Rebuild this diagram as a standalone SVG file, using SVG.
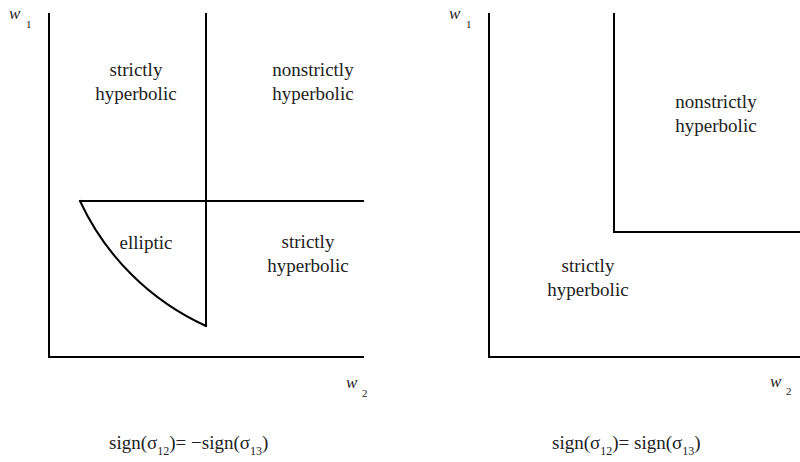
<svg xmlns="http://www.w3.org/2000/svg" width="800" height="462" viewBox="0 0 800 462">
<style>
.ln{stroke:#000;stroke-width:2;fill:none;stroke-linecap:square}
.t{font-size:19px;text-anchor:middle}
.w{font-size:17px;font-style:italic}
.s{font-size:11px}
.f{font-size:19px}
.fs{font-size:12px}
</style>
<rect width="800" height="462" fill="#fff"/>
<g id="connectors">
<path class="ln" d="M49,14 V357 H363"/>
<path class="ln" d="M206,14 V326"/>
<path class="ln" d="M80,201 H363"/>
<path class="ln" d="M80,201 A255,255 0 0 0 206,326"/>
<path class="ln" d="M489,14 V357 H800"/>
<path class="ln" d="M614,14 V232 H800"/>
</g>
<g font-family="'Liberation Serif', 'DejaVu Serif', serif" fill="#222">
<g id="axis-labels">
<text class="w" x="9" y="19">w</text><text class="s" x="26" y="28">1</text>
<text class="w" x="449" y="19">w</text><text class="s" x="466" y="28">1</text>
<text class="w" x="346" y="388">w</text><text class="s" x="362" y="397">2</text>
<text class="w" x="770" y="387">w</text><text class="s" x="786" y="395">2</text>
</g>
<g id="left-strictly"><text class="t" x="136" y="76">strictly</text><text class="t" x="136" y="100">hyperbolic</text></g>
<g id="left-nonstrictly"><text class="t" x="313" y="76">nonstrictly</text><text class="t" x="313" y="100">hyperbolic</text></g>
<g id="left-elliptic"><text class="t" x="146" y="249">elliptic</text></g>
<g id="left-strictly2"><text class="t" x="308" y="248">strictly</text><text class="t" x="308" y="272">hyperbolic</text></g>
<g id="right-nonstrictly"><text class="t" x="716" y="108">nonstrictly</text><text class="t" x="716" y="132">hyperbolic</text></g>
<g id="right-strictly"><text class="t" x="588" y="272">strictly</text><text class="t" x="588" y="296">hyperbolic</text></g>
<g id="caption-left"><text class="f" x="109" y="449">sign(σ<tspan class="fs" dy="6">12</tspan><tspan dy="-6">)= −sign(σ</tspan><tspan class="fs" dy="6">13</tspan><tspan dy="-6">)</tspan></text></g>
<g id="caption-right"><text class="f" x="552" y="449">sign(σ<tspan class="fs" dy="6">12</tspan><tspan dy="-6">)= sign(σ</tspan><tspan class="fs" dy="6">13</tspan><tspan dy="-6">)</tspan></text></g>
</g>
</svg>
